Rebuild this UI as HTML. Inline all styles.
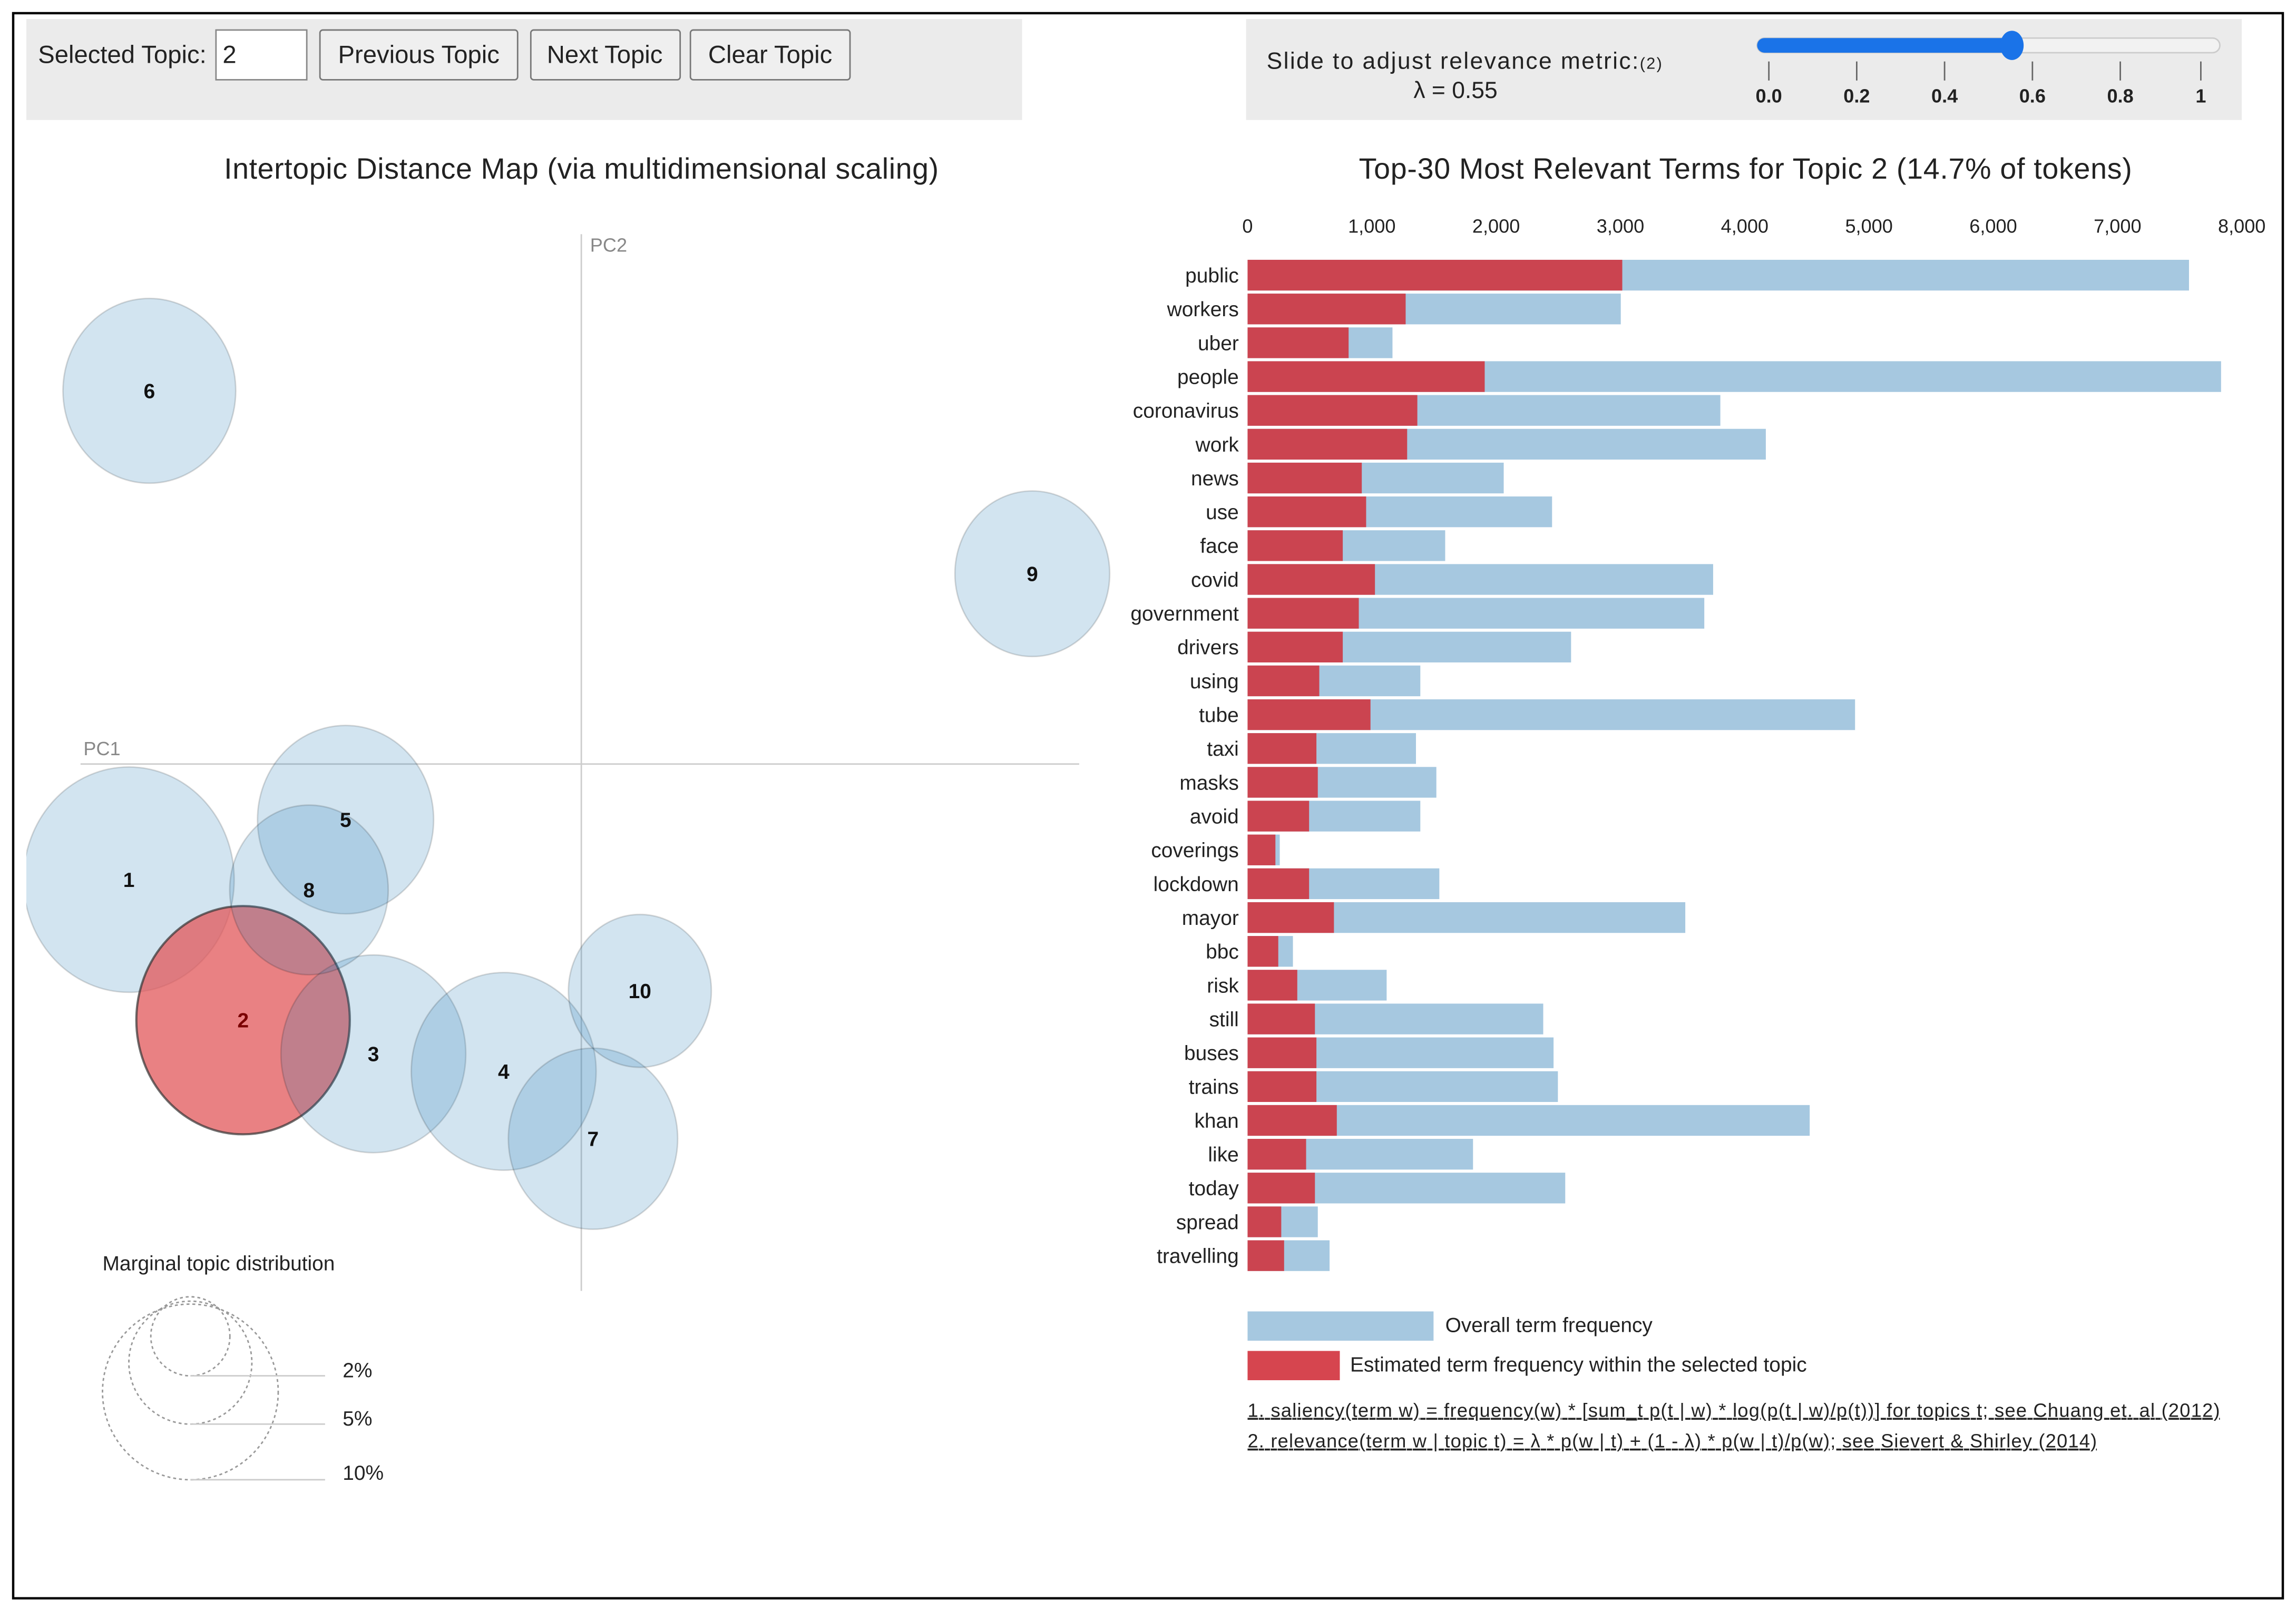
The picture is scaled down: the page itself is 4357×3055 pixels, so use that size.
<!DOCTYPE html>
<html><head><meta charset="utf-8">
<style>
html,body{margin:0;padding:0;background:#fff;}
svg{display:block;font-family:"Liberation Sans",Arial,sans-serif;}
</style></head>
<body>
<svg id="root" width="4357" height="3055" viewBox="0 0 1568 1100" preserveAspectRatio="none" xmlns="http://www.w3.org/2000/svg">
  <defs>
    <clipPath id="mapclip"><rect x="18" y="140" width="760" height="760"/></clipPath>
  </defs>
  <rect x="9" y="9" width="1550" height="1083" fill="#fff" stroke="#000" stroke-width="1.6"/>
  <rect x="18" y="13" width="680" height="69" fill="#ebebeb"/>
  <text x="26" y="43" font-size="17" fill="#222">Selected Topic:</text>
  <g>
    <rect x="147.5" y="20.5" width="62" height="34" fill="#fff" stroke="#888" stroke-width="1"/>
    <text x="152" y="43" font-size="17" fill="#222">2</text>
  </g>
  <g>
    <rect x="218.5" y="20.5" width="135" height="34" rx="2" fill="#efefef" stroke="#777" stroke-width="1"/>
    <text x="286" y="43" font-size="17" fill="#222" text-anchor="middle">Previous Topic</text>
  </g>
  <g>
    <rect x="362.5" y="20.5" width="102" height="34" rx="2" fill="#efefef" stroke="#777" stroke-width="1"/>
    <text x="413" y="43" font-size="17" fill="#222" text-anchor="middle">Next Topic</text>
  </g>
  <g>
    <rect x="471.5" y="20.5" width="109" height="34" rx="2" fill="#efefef" stroke="#777" stroke-width="1"/>
    <text x="526" y="43" font-size="17" fill="#222" text-anchor="middle">Clear Topic</text>
  </g>
  <rect x="851" y="13" width="680" height="69" fill="#ebebeb"/>
  <text x="865" y="47" font-size="16" fill="#222" textLength="270">Slide to adjust relevance metric:<tspan font-size="11">(2)</tspan></text>
  <text x="994" y="67" font-size="16" fill="#222" text-anchor="middle">λ = 0.55</text>
  <g>
    <rect x="1200" y="26" width="316" height="10" rx="5" fill="#f2f2f2" stroke="#ccc" stroke-width="1"/>
    <rect x="1200" y="26" width="174" height="10" rx="5" fill="#1a73e8"/>
    <ellipse cx="1374" cy="31" rx="8" ry="10" fill="#1a73e8"/>
  </g>
  <g id="sliderTicks"></g>

  <text x="397" y="122" font-size="20" fill="#222" text-anchor="middle" textLength="488">Intertopic Distance Map (via multidimensional scaling)</text>
  <text x="1192" y="122" font-size="20" fill="#222" text-anchor="middle" textLength="528">Top-30 Most Relevant Terms for Topic 2 (14.7% of tokens)</text>

  <line x1="55" y1="522" x2="737" y2="522" stroke="#ccc" stroke-width="1"/>
  <line x1="397" y1="160" x2="397" y2="882" stroke="#ccc" stroke-width="1"/>
  <text x="57" y="516" font-size="13" fill="#888">PC1</text>
  <text x="403" y="172" font-size="13" fill="#888">PC2</text>
  <g id="circles" clip-path="url(#mapclip)"></g>
  <g id="circleLabels"></g>

  <text x="70" y="868" font-size="14" fill="#222">Marginal topic distribution</text>
  <g>
    <circle cx="130" cy="913" r="27" fill="none" stroke="#999" stroke-dasharray="2,2"/>
    <circle cx="130" cy="931" r="42" fill="none" stroke="#999" stroke-dasharray="2,2"/>
    <circle cx="130" cy="951" r="60" fill="none" stroke="#999" stroke-dasharray="2,2"/>
    <line x1="130" y1="940" x2="222" y2="940" stroke="#ccc"/>
    <line x1="130" y1="973" x2="222" y2="973" stroke="#ccc"/>
    <line x1="130" y1="1011" x2="222" y2="1011" stroke="#ccc"/>
    <text x="234" y="941" font-size="14" fill="#222">2%</text>
    <text x="234" y="974" font-size="14" fill="#222">5%</text>
    <text x="234" y="1011" font-size="14" fill="#222">10%</text>
  </g>

  <g id="xticks"></g>
  <g id="bars"></g>

  <rect x="852" y="896" width="127" height="20" fill="#a6c8e0"/>
  <text x="987" y="910" font-size="14" fill="#222">Overall term frequency</text>
  <rect x="852" y="923" width="63" height="20" fill="#d6454f"/>
  <text x="922" y="937" font-size="14" fill="#222">Estimated term frequency within the selected topic</text>
  <text x="852" y="968" font-size="13" fill="#222" text-decoration="underline" textLength="664">1. saliency(term w) = frequency(w) * [sum_t p(t | w) * log(p(t | w)/p(t))] for topics t; see Chuang et. al (2012)</text>
  <text x="852" y="989" font-size="13" fill="#222" text-decoration="underline" textLength="580">2. relevance(term w | topic t) = λ * p(w | t) + (1 - λ) * p(w | t)/p(w); see Sievert &amp; Shirley (2014)</text>
</svg>
<script>
const terms = ["public","workers","uber","people","coronavirus","work","news","use","face","covid","government","drivers","using","tube","taxi","masks","avoid","coverings","lockdown","mayor","bbc","risk","still","buses","trains","khan","like","today","spread","travelling"];
const overallFreq = [7575,3003,1166,7833,3804,4170,2061,2450,1590,3746,3675,2603,1390,4888,1355,1519,1390,259,1543,3522,365,1119,2379,2462,2497,4523,1814,2556,565,660];
const topicFreq = [3015,1272,813,1908,1366,1284,919,954,766,1025,895,766,577,989,554,565,495,224,495,695,247,400,542,554,554,718,471,542,271,294];
const xTickValues = [0,1000,2000,3000,4000,5000,6000,7000,8000];
const xTickLabels = ["0","1,000","2,000","3,000","4,000","5,000","6,000","7,000","8,000"];
const topicIds = ["1","2","3","4","5","6","7","8","9","10"];
const topicPC1 = [-0.309,-0.231,-0.142,-0.053,-0.161,-0.295,0.008,-0.186,0.308,0.040];
const topicPC2 = [-0.079,-0.175,-0.198,-0.210,-0.038,0.255,-0.256,-0.086,0.130,-0.155];
const topicSize = [11.3,11.6,8.7,8.7,7.9,7.6,7.3,6.4,6.1,5.2];
const sliderTickValues = [0,0.2,0.4,0.6,0.8,1];
const sliderTickLabels = ["0.0","0.2","0.4","0.6","0.8","1"];

const NS = "http://www.w3.org/2000/svg";
function mk(tag, attrs, parent){const e=document.createElementNS(NS,tag);for(const k in attrs)e.setAttribute(k,attrs[k]);parent.appendChild(e);return e;}

const x0=852, x1=1531;
const xScale = v => x0 + (v/8000)*(x1-x0);
const rowY = i => 188 + i*23.1;
const xt = document.getElementById('xticks');
xTickValues.forEach((v,i)=>{
  const t = mk('text',{x:xScale(v),y:159,'font-size':13,fill:'#222','text-anchor':'middle'},xt);
  
  
  t.textContent = xTickLabels[i];
});
const bg = document.getElementById('bars');
terms.forEach((term,i)=>{
  const cy=rowY(i);
  const b = mk('rect',{x:x0,y:cy-10.5,width:xScale(overallFreq[i])-x0,height:21,fill:'#a6c8e0'},bg);
  
  
  const r = mk('rect',{x:x0,y:cy-10.5,width:xScale(topicFreq[i])-x0,height:21,fill:'#cb4450'},bg);
  
  
  const t = mk('text',{x:846,y:cy+5,'font-size':14,fill:'#222','text-anchor':'end'},bg);
  
  
  t.textContent = term;
});

const mx = v => 397 + v*1000;
const my = v => 522 - v*1000;
const rScale = s => 21.4*Math.sqrt(s);
const cg = document.getElementById('circles'), lg = document.getElementById('circleLabels');
topicIds.forEach((id,i)=>{
  const sel = id==="2";
  const rx=rScale(topicSize[i]);
  const c = mk('ellipse',{cx:mx(topicPC1[i]),cy:my(topicPC2[i]),rx:rx,ry:rx*1.07,
    fill: sel?'#e15759':'#1f77b4','fill-opacity': sel?0.75:0.2,
    stroke: sel?'#333':'#000','stroke-opacity': sel?0.7:0.15,'stroke-width':sel?1.5:1},cg);
  
  
});
topicIds.forEach((id,i)=>{
  const t = mk('text',{x:mx(topicPC1[i]),y:my(topicPC2[i])+5,'font-size':14,'font-weight':'bold',fill:id==="2"?'#7a0000':'#111','text-anchor':'middle'},lg);
  
  
  t.textContent = id;
});

const st = document.getElementById('sliderTicks');
const sx = v => 1208 + v*300;
sliderTickValues.forEach((v,i)=>{
  const px = i===5 ? 1503 : sx(v);
  const l = mk('line',{x1:px,y1:42,x2:px,y2:55,stroke:'#666','stroke-width':1},st);
  
  
  const t = mk('text',{x:px,y:70,'font-size':13,'font-weight':'bold',fill:'#222','text-anchor':'middle'},st);
  
  
  t.textContent = sliderTickLabels[i];
});
</script>
</body></html>
